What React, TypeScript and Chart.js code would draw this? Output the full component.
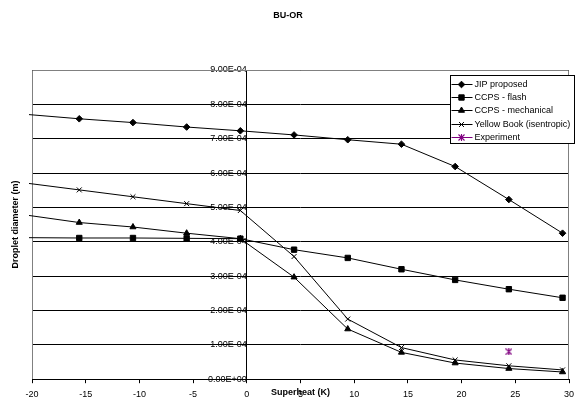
import React, { useEffect, useRef } from 'react';
import { Chart, registerables } from 'chart.js';
import { drawPoint } from 'chart.js/helpers';

Chart.register(...registerables);

const chartTitle = 'BU-OR';
const xAxisTitle = 'Superheat (K)';
const yAxisTitle = 'Droplet diameter (m)';

const superheat = [-20.6, -15.6, -10.6, -5.6, -0.6, 4.4, 9.4, 14.4, 19.4, 24.4, 29.4];
const jipProposed = [7.71e-4, 7.58e-4, 7.47e-4, 7.34e-4, 7.23e-4, 7.11e-4, 6.97e-4, 6.84e-4, 6.19e-4, 5.23e-4, 4.25e-4];
const ccpsFlash = [4.12e-4, 4.11e-4, 4.11e-4, 4.10e-4, 4.09e-4, 3.77e-4, 3.53e-4, 3.2e-4, 2.89e-4, 2.62e-4, 2.37e-4];
const ccpsMechanical = [4.78e-4, 4.56e-4, 4.43e-4, 4.25e-4, 4.09e-4, 2.97e-4, 1.46e-4, 0.78e-4, 0.47e-4, 0.31e-4, 0.21e-4];
const yellowBook = [5.71e-4, 5.51e-4, 5.31e-4, 5.11e-4, 4.91e-4, 3.57e-4, 1.75e-4, 0.92e-4, 0.56e-4, 0.39e-4, 0.27e-4];
const experimentX = [24.4];
const experimentY = [0.8e-4];

const seriesLabels = ['JIP proposed', 'CCPS - flash', 'CCPS - mechanical', 'Yellow Book (isentropic)', 'Experiment'];

const xMin = -20;
const xMax = 30;
const xStep = 5;
const yMin = 0;
const yMax = 9e-4;
const yStep = 1e-4;

const FONT = "'Liberation Sans', Arial, sans-serif";

function sci(v: number): string {
  const [m, e] = Number(v).toExponential(2).split('e');
  const n = parseInt(e, 10);
  return `${m}E${n < 0 ? '-' : '+'}${String(Math.abs(n)).padStart(2, '0')}`;
}

function makeStar(color: string): HTMLCanvasElement {
  const c = document.createElement('canvas');
  c.width = 7;
  c.height = 7;
  const g = c.getContext('2d')!;
  g.strokeStyle = color;
  g.lineWidth = 1.1;
  g.beginPath();
  g.moveTo(0.5, 0.5);
  g.lineTo(6.5, 6.5);
  g.moveTo(6.5, 0.5);
  g.lineTo(0.5, 6.5);
  g.moveTo(3.5, 0);
  g.lineTo(3.5, 7);
  g.stroke();
  return c;
}

export default function App() {
  const ref = useRef<HTMLCanvasElement | null>(null);

  useEffect(() => {
    const canvas = ref.current;
    if (!canvas) return;
    const star = makeStar('#800080');

    const lineSet = (label: string, ys: number[], style: any, radius: number) => ({
      label,
      data: superheat.map((x, i) => ({ x, y: ys[i] })),
      showLine: true,
      borderColor: '#000',
      backgroundColor: '#000',
      borderWidth: 1,
      pointStyle: style,
      pointRadius: (c: any) => (c.raw && c.raw.x < xMin ? 0 : radius),
      pointHoverRadius: 0,
      pointBackgroundColor: '#000',
      pointBorderColor: '#000',
      pointBorderWidth: 1,
      tension: 0,
      clip: 3,
      _legendRadius: radius,
    });

    const datasets: any[] = [
      lineSet(seriesLabels[0], jipProposed, 'rectRot', 3.3),
      lineSet(seriesLabels[1], ccpsFlash, 'rect', 3.8),
      lineSet(seriesLabels[2], ccpsMechanical, 'triangle', 3.5),
      lineSet(seriesLabels[3], yellowBook, 'crossRot', 3.5),
      {
        label: seriesLabels[4],
        data: experimentX.map((x, i) => ({ x, y: experimentY[i] })),
        showLine: false,
        borderColor: '#800080',
        backgroundColor: '#800080',
        pointStyle: star,
        pointRadius: 4,
        pointHoverRadius: 0,
        _legendRadius: 4,
      },
    ];

    const framePlugin = {
      id: 'frame',
      beforeDatasetsDraw(chart: any) {
        const { ctx, chartArea: a } = chart;
        ctx.save();
        ctx.strokeStyle = '#808080';
        ctx.lineWidth = 1;
        ctx.beginPath();
        const l = Math.round(a.left) + 0.5;
        const r = Math.round(a.right) - 0.5;
        const t = Math.round(a.top) + 0.5;
        const b = Math.round(a.bottom);
        ctx.moveTo(l, b);
        ctx.lineTo(l, t);
        ctx.lineTo(r, t);
        ctx.lineTo(r, b);
        ctx.stroke();
        ctx.restore();
      },
    };

    const textPlugin = {
      id: 'titlesLegend',
      afterDraw(chart: any) {
        const { ctx, chartArea: a } = chart;
        ctx.save();
        ctx.fillStyle = '#000';
        ctx.font = `bold 9px ${FONT}`;
        ctx.textAlign = 'center';
        ctx.textBaseline = 'middle';
        ctx.fillText(chartTitle, 288, 16);
        ctx.fillText(xAxisTitle, (a.left + a.right) / 2, 393);
        ctx.save();
        ctx.translate(16, (a.top + a.bottom) / 2);
        ctx.rotate(-Math.PI / 2);
        ctx.fillText(yAxisTitle, 0, 0);
        ctx.restore();

        // legend
        const bx = Math.round(a.right) - 118.5;
        const by = Math.round(a.top) + 5.5;
        const bw = 124;
        const bh = 68;
        ctx.fillStyle = '#fff';
        ctx.fillRect(bx, by, bw, bh);
        ctx.strokeStyle = '#000';
        ctx.lineWidth = 1;
        ctx.strokeRect(bx, by, bw, bh);
        ctx.font = `9px ${FONT}`;
        ctx.textAlign = 'left';
        ctx.textBaseline = 'middle';
        chart.data.datasets.forEach((ds: any, i: number) => {
          const y = Math.round(by + 8 + i * 13.4) + 0.5;
          const col = ds.borderColor;
          ctx.strokeStyle = i === 4 ? '#800080' : '#000';
          ctx.lineWidth = 1;
          ctx.beginPath();
          ctx.moveTo(bx + 1, y);
          ctx.lineTo(bx + 22, y);
          ctx.stroke();
          ctx.fillStyle = col;
          ctx.strokeStyle = col;
          drawPoint(ctx, { pointStyle: ds.pointStyle, radius: ds._legendRadius, rotation: 0, borderWidth: 1 } as any, bx + 11, y);
          ctx.fillStyle = '#000';
          ctx.fillText(ds.label, bx + 24, y);
        });
        ctx.restore();
      },
    };

    const chart = new Chart(canvas, {
      type: 'scatter',
      data: { datasets },
      plugins: [framePlugin, textPlugin],
      options: {
        animation: false,
        responsive: false,
        events: [],
        layout: { padding: { left: 32, right: 12, top: 70, bottom: -5 } },
        plugins: {
          legend: { display: false },
          tooltip: { enabled: false },
          title: { display: false },
        },
        scales: {
          x: {
            type: 'linear',
            position: 'bottom',
            min: xMin,
            max: xMax,
            ticks: {
              stepSize: xStep,
              color: '#000',
              font: { family: FONT, size: 9 },
              padding: 6,
              maxRotation: 0,
              autoSkip: false,
            },
            grid: { drawOnChartArea: false, drawTicks: true, tickLength: 4, color: '#000' },
            border: { display: true, color: '#000', width: 1 },
          },
          y: {
            type: 'linear',
            axis: 'y',
            position: { x: 0 } as any,
            min: yMin,
            max: yMax,
            ticks: {
              stepSize: yStep,
              color: '#000',
              font: { family: FONT, size: 9 },
              padding: 3,
              callback: (v: any) => sci(Number(v)),
            },
            grid: { color: '#000', lineWidth: 1, tickLength: 4, drawTicks: true, tickColor: '#000' },
            border: { display: true, color: '#000', width: 1 },
          },
        } as any,
      },
    } as any);

    return () => chart.destroy();
  }, []);

  return (
    <div style={{ position: 'absolute', left: 0, top: 0, width: 581, height: 401, background: '#fff' }}>
      <canvas ref={ref} width={581} height={401} style={{ display: 'block' }} />
    </div>
  );
}
